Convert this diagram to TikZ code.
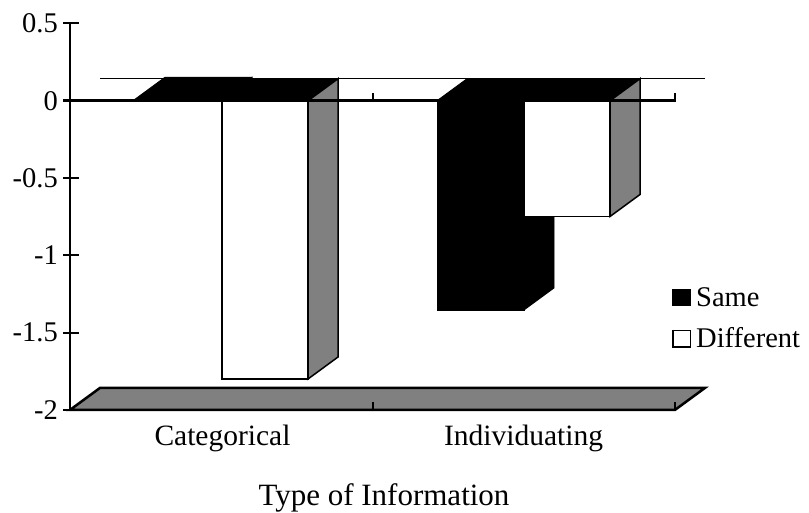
\documentclass[tikz,border=0pt]{standalone}
\usepackage{fontspec}
\setmainfont{Liberation Serif}
\begin{document}
\begin{tikzpicture}[x=1pt,y=-1pt,
  lbl/.style={inner sep=0pt,font=\fontsize{28.5}{30}\selectfont},
  catlbl/.style={inner sep=0pt,anchor=base,font=\fontsize{29.5}{31}\selectfont},
  face/.style={draw=black,line width=1.5pt,line join=miter},
  darkface/.style={fill=black,draw=black,line width=0.8pt,line join=miter},
  axisline/.style={line width=2pt},
  sidegray/.style={fill=black!50}]
\useasboundingbox (0,0) rectangle (809,512);

% floor
\draw[sidegray,line width=2.5pt,line join=miter] (70,409.9) -- (675,409.9) -- (705,387.9) -- (100,387.9) -- cycle;
\draw[line width=2pt] (372.5,409.9) -- (372.5,402);
\draw[line width=2pt] (675,409.9) -- (675,402);

% zero line along the back
\draw[line width=1.5pt] (100,78.7) -- (705,78.7);

% Categorical, Same (just above zero): top and side
\path[darkface] (135,99.2) -- (222,99.2) -- (252,77.2) -- (165,77.2) -- cycle;
\path[darkface] (222,99.2) -- (252,77.2) -- (252,78.7) -- (222,100.7) -- cycle;
% Categorical, Different
\path[darkface] (222,100.7) -- (308,100.7) -- (338,78.7) -- (252,78.7) -- cycle;
\draw[face,fill=white] (222,100.7) rectangle (308,379);
\draw[face,sidegray] (308,100.7) -- (338,78.7) -- (338,357) -- (308,379) -- cycle;

% Individuating, Same
\path[darkface] (437,100.7) -- (524,100.7) -- (554,78.7) -- (467,78.7) -- cycle;
\path[darkface] (524,100.7) -- (554,78.7) -- (554,288) -- (524,310) -- cycle;
\path[darkface] (437,100.7) rectangle (524,310);
% Individuating, Different
\path[darkface] (524,100.7) -- (610,100.7) -- (640,78.7) -- (554,78.7) -- cycle;
\draw[face,fill=white] (524,100.7) rectangle (610,216.5);
\draw[face,sidegray] (610,100.7) -- (640,78.7) -- (640,194.5) -- (610,216.5) -- cycle;

% value axis
\draw[axisline] (70,23.4) -- (70,409.9);
\foreach \yy in {23.4,178,255.3,332.6} \draw[axisline] (63,\yy) -- (79,\yy);
\draw[axisline] (63,409.9) -- (70,409.9);
% zero line in front
\draw[line width=2.5pt] (63,100.7) -- (675,100.7);
\draw[axisline] (372.5,100.7) -- (372.5,93);
\draw[axisline] (675,101.7) -- (675,93);

% tick labels
\node[lbl,anchor=east] (t05) at (58,23.4) {0.5};
\node[lbl,anchor=east] (t0) at (58,100.7) {0};
\node[lbl,anchor=east] (tm05) at (58,178) {-0.5};
\node[lbl,anchor=east] (tm1) at (58,255.3) {-1};
\node[lbl,anchor=east] (tm15) at (58,332.6) {-1.5};
\node[lbl,anchor=east] (tm2) at (58,409.9) {-2};

% category labels and axis title
\node[catlbl] (cat) at (222.5,445) {Categorical};
\node[catlbl] (ind) at (523.5,445) {Individuating};
\node[catlbl,font=\fontsize{31}{33}\selectfont] (title) at (384,505) {Type of Information};

% legend
\fill[black] (672,288.5) rectangle (690.5,306);
\draw[line width=1.5pt,fill=white] (672.75,330.5) rectangle (690.5,347);
\node[lbl,anchor=base west] (lsame) at (696,306) {Same};
\node[lbl,anchor=base west] (ldiff) at (696,347) {Different};
\end{tikzpicture}
\end{document}
